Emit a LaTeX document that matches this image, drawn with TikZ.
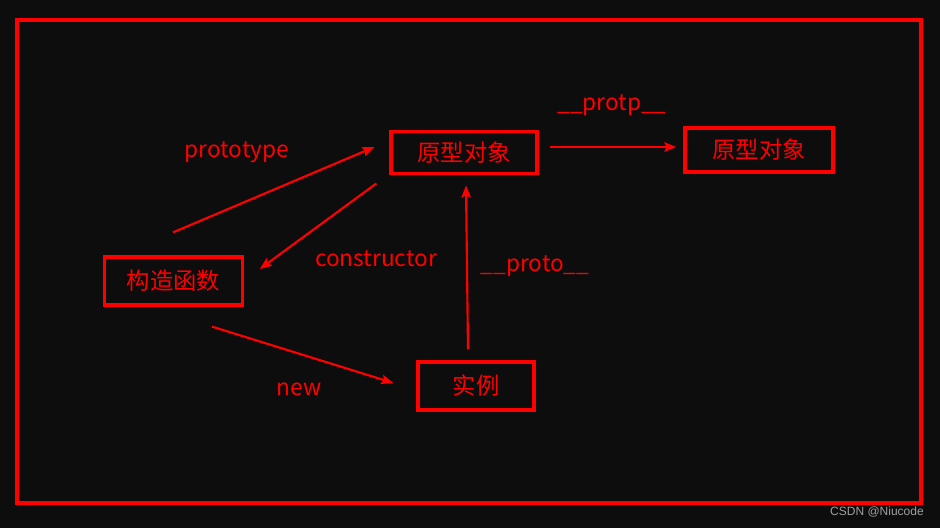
\documentclass[tikz,border=0pt]{standalone}
\usepackage{fontspec}
\setmainfont{Noto Sans CJK SC}
\newfontfamily\marksans{Liberation Sans}
\usetikzlibrary{arrows.meta, positioning, calc}

\definecolor{bgdark}{HTML}{0D0D0D}
\definecolor{pen}{HTML}{FF0000}

\begin{document}
\begin{tikzpicture}[x=0.75pt, y=-0.75pt,
  box/.style={draw=pen, line width=2.4pt, inner sep=0pt, text=pen, font=\fontsize{17.5}{20}\selectfont},
  lbl/.style={text=pen, inner sep=0pt, font=\fontsize{17}{20}\selectfont},
  arr/.style={draw=pen, line width=1.6pt, -{Stealth[length=9pt, width=7pt, inset=1.5pt]}}]
% background and outer frame
\fill[bgdark] (0,0) rectangle (940,528);
\useasboundingbox (0,0) rectangle (940,528);
\draw[pen, line width=2.6pt] (17,20) rectangle (921,503);

% boxes
\node[box, minimum width=109.5pt, minimum height=32pt] (proto1) at (464,152.5) {原型对象};
\node[box, minimum width=111pt, minimum height=33pt] (proto2) at (759,150) {原型对象};
\node[box, minimum width=103pt, minimum height=36pt] (ctor) at (173.5,281) {构造函数};
\node[box, minimum width=87pt, minimum height=36pt] (inst) at (476,386) {实例};

% arrows between the boxes
\draw[arr] ([shift={(-0.5,-23)}]ctor.north) -- ([shift={(-15,-5.5)}]proto1.west);
\draw[arr] ([shift={(-13,8)}]proto1.south west) -- ([shift={(16,-12)}]ctor.east);
\draw[arr] ([shift={(11,-5.5)}]proto1.east) -- ([shift={(-7,-3)}]proto2.west);
\draw[arr] ([shift={(-8,-11)}]inst.north) -- ([shift={(2,10)}]proto1.south);
\draw[arr] ([shift={(38.5,20)}]ctor.south) -- ([shift={(-23,-3)}]inst.west);

% labels
\node[lbl] (lblproto)  at (237,152) {prototype};
\node[lbl] (lblctor)   at (376,259) {constructor};
\node[lbl] (lbldunder) at (535,266) {\_\_proto\_\_};
\node[lbl] (lblprotp)  at (612,105) {\_\_protp\_\_};
\node[lbl] (lblnew)    at (299,389) {new};

% watermark
\node[text=gray!75, font=\marksans\fontsize{9}{10}\selectfont, anchor=east, inner sep=0pt] (mark) at (924,512) {CSDN @Niucode};
\end{tikzpicture}
\end{document}
